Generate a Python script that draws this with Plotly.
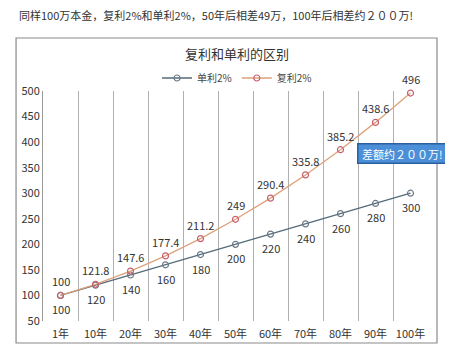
import plotly.graph_objects as go

categories = ["1年", "10年", "20年", "30年", "40年", "50年", "60年", "70年", "80年", "90年", "100年"]
simple_vals = [100, 120, 140, 160, 180, 200, 220, 240, 260, 280, 300]
compound_vals = [100, 121.8, 147.6, 177.4, 211.2, 249, 290.4, 335.8, 385.2, 438.6, 496]
y_ticks = [50, 100, 150, 200, 250, 300, 350, 400, 450, 500]

FONT = "Noto Sans CJK SC"

fig = go.Figure()
fig.add_trace(go.Scatter(
    x=categories, y=simple_vals, name="单利2%", mode="lines+markers",
    line=dict(color="#556b7a", width=1.3),
    marker=dict(symbol="circle-open", size=6, color="#6a7a88", line=dict(width=1.2)),
    cliponaxis=False,
))
fig.add_trace(go.Scatter(
    x=categories, y=compound_vals, name="复利2%", mode="lines+markers",
    line=dict(color="#dca27a", width=1.3),
    marker=dict(symbol="circle-open", size=6, color="#c8606e", line=dict(width=1.2)),
    cliponaxis=False,
))

for c, v in zip(categories, simple_vals):
    fig.add_annotation(x=c, y=v, text=str(v), showarrow=False, yshift=-14,
                       font=dict(size=11, color="#333333", family=FONT))
for c, v in zip(categories, compound_vals):
    fig.add_annotation(x=c, y=v, text="%g" % v, showarrow=False, yshift=14,
                       font=dict(size=11, color="#333333", family=FONT))

# page body keeps its default 8px margin; the figure is sized/placed to compensate
fig.update_layout(
    width=437, height=343,
    margin=dict(l=35, r=17, t=83, b=30, autoexpand=False),
    paper_bgcolor="white", plot_bgcolor="white",
    font=dict(family=FONT, size=11, color="#333333"),
    showlegend=True,
    legend=dict(orientation="h", x=0.504, xanchor="center", y=1.0565, yanchor="middle",
                font=dict(size=10, color="#444444"), bgcolor="rgba(0,0,0,0)",
                traceorder="normal", itemwidth=30),
    xaxis=dict(type="category", range=[-0.5, len(categories) - 0.5], tickson="boundaries",
               showgrid=True, gridcolor="#b0b0b0",
               gridwidth=1, showline=False, ticks="", zeroline=False, tickangle=0,
               ticklabelstandoff=5,
               tickfont=dict(size=11, color="#333333")),
    yaxis=dict(range=[50, 500], tickvals=y_ticks, showgrid=False, showline=True,
               linecolor="#9a9a9a", linewidth=1, ticks="", zeroline=False,
               tickfont=dict(size=11, color="#333333")),
)

# outer chart border
fig.add_shape(type="rect", xref="paper", yref="paper", x0=-0.070, x1=1.0234, y0=-0.0957, y1=1.2304,
              line=dict(color="#8a8a8a", width=1.2), fillcolor="rgba(0,0,0,0)", layer="below")

fig.add_annotation(xref="paper", yref="paper", x=0.504, y=1.165, text="复利和单利的区别",
                   showarrow=False, font=dict(size=13, color="#333333", family=FONT),
                   xanchor="center", yanchor="middle")
fig.add_annotation(xref="paper", yref="paper", x=-0.0675, y=1.33,
                   text="同样100万本金，复利2%和单利2%，50年后相差49万，100年后相差约２００万!",
                   showarrow=False, font=dict(size=11, color="#333333", family=FONT),
                   xanchor="left", yanchor="middle")
fig.add_annotation(x=9.77, y=377, text=" 差额约２００万! ", showarrow=False,
                   font=dict(size=11, color="white", family=FONT),
                   bgcolor="#4a8fd8", bordercolor="#2c5f9e", borderwidth=1.5, borderpad=1,
                   xanchor="center", yanchor="middle")

fig.write_html("out.html", config={"displayModeBar": False})
